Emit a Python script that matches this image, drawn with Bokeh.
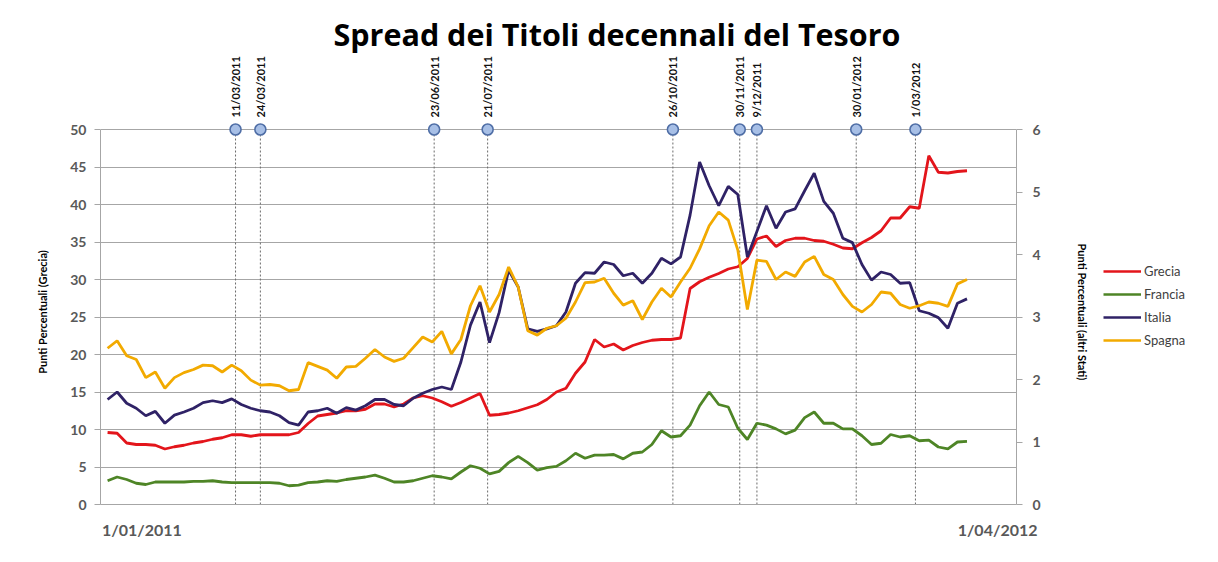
import numpy as np
import pandas as pd
from bokeh.plotting import figure
from bokeh.layouts import column, row
from bokeh.models import (Range1d, LinearAxis, FixedTicker, Legend, LegendItem,
                          ColumnDataSource)
from bokeh.embed import file_html
from bokeh.resources import INLINE
from bokeh.core.properties import value

# ---------------- data ----------------
date_rilevazione = pd.date_range("2011-01-03", periods=91, freq="5D")

# Grecia: left axis (punti percentuali)
grecia = [9.6, 9.5, 8.2, 8.0, 8.0, 7.9, 7.4, 7.7, 7.9, 8.2,
          8.4, 8.7, 8.9, 9.3, 9.3, 9.1, 9.3, 9.3, 9.3, 9.3,
          9.6, 10.8, 11.8, 12.0, 12.2, 12.5, 12.5, 12.7, 13.4, 13.4,
          13.0, 13.4, 14.2, 14.5, 14.2, 13.7, 13.1, 13.6, 14.2, 14.8,
          11.9, 12.0, 12.2, 12.5, 12.9, 13.3, 14.0, 15.0, 15.5, 17.5,
          19.0, 22.0, 21.0, 21.4, 20.6, 21.2, 21.6, 21.9, 22.0, 22.0,
          22.2, 28.8, 29.7, 30.3, 30.8, 31.4, 31.7, 32.8, 35.4, 35.8,
          34.4, 35.2, 35.5, 35.5, 35.2, 35.1, 34.7, 34.2, 34.1, 34.9,
          35.6, 36.5, 38.2, 38.2, 39.7, 39.5, 46.5, 44.3, 44.2, 44.4,
          44.5]

# altri Stati: right axis
francia = [0.38, 0.44, 0.40, 0.34, 0.32, 0.36, 0.36, 0.36, 0.36, 0.37,
           0.37, 0.38, 0.36, 0.35, 0.35, 0.35, 0.35, 0.35, 0.34, 0.30,
           0.31, 0.35, 0.36, 0.38, 0.37, 0.40, 0.42, 0.44, 0.47, 0.42,
           0.36, 0.36, 0.38, 0.42, 0.46, 0.44, 0.41, 0.52, 0.62, 0.58,
           0.49, 0.53, 0.67, 0.77, 0.67, 0.55, 0.59, 0.61, 0.70, 0.82,
           0.74, 0.79, 0.79, 0.80, 0.73, 0.82, 0.84, 0.96, 1.18, 1.08,
           1.10, 1.27, 1.58, 1.80, 1.60, 1.56, 1.22, 1.04, 1.30, 1.27,
           1.21, 1.13, 1.19, 1.39, 1.48, 1.30, 1.30, 1.21, 1.21, 1.10,
           0.96, 0.98, 1.12, 1.08, 1.10, 1.02, 1.03, 0.92, 0.89, 1.00,
           1.01]

italia = [1.68, 1.80, 1.62, 1.54, 1.42, 1.49, 1.30, 1.43, 1.48, 1.54,
          1.63, 1.66, 1.63, 1.69, 1.60, 1.54, 1.50, 1.48, 1.42, 1.31,
          1.27, 1.48, 1.50, 1.54, 1.46, 1.55, 1.51, 1.58, 1.68, 1.68,
          1.60, 1.58, 1.70, 1.78, 1.84, 1.88, 1.84, 2.28, 2.87, 3.24,
          2.59, 3.07, 3.75, 3.48, 2.81, 2.77, 2.81, 2.86, 3.08, 3.54,
          3.71, 3.70, 3.88, 3.84, 3.66, 3.70, 3.54, 3.70, 3.94, 3.85,
          3.96, 4.63, 5.48, 5.10, 4.78, 5.09, 4.96, 3.96, 4.37, 4.78,
          4.42, 4.68, 4.73, 5.02, 5.30, 4.85, 4.66, 4.26, 4.19, 3.84,
          3.59, 3.72, 3.68, 3.54, 3.55, 3.10, 3.06, 2.99, 2.82, 3.22,
          3.29]

spagna = [2.50, 2.62, 2.38, 2.32, 2.03, 2.12, 1.86, 2.03, 2.11, 2.16,
          2.23, 2.22, 2.12, 2.23, 2.14, 1.99, 1.91, 1.92, 1.90, 1.82,
          1.84, 2.27, 2.21, 2.15, 2.02, 2.20, 2.21, 2.34, 2.48, 2.36,
          2.29, 2.34, 2.51, 2.68, 2.60, 2.77, 2.41, 2.64, 3.18, 3.50,
          3.08, 3.36, 3.80, 3.48, 2.78, 2.71, 2.82, 2.86, 2.98, 3.24,
          3.55, 3.56, 3.62, 3.38, 3.19, 3.26, 2.96, 3.24, 3.46, 3.32,
          3.56, 3.78, 4.09, 4.46, 4.68, 4.55, 4.07, 3.12, 3.91, 3.89,
          3.60, 3.72, 3.65, 3.88, 3.97, 3.68, 3.60, 3.36, 3.17, 3.08,
          3.20, 3.40, 3.38, 3.20, 3.14, 3.18, 3.24, 3.22, 3.17, 3.53,
          3.60]

eventi = ["2011-03-11", "2011-03-24", "2011-06-23", "2011-07-21", "2011-10-26",
          "2011-11-30", "2011-12-09", "2012-01-30", "2012-03-01"]
etichette_eventi = ["11/03/2011", "24/03/2011", "23/06/2011", "21/07/2011",
                    "26/10/2011", "30/11/2011", "9/12/2011", "30/01/2012", "1/03/2012"]

tick_sx = [0, 5, 10, 15, 20, 25, 30, 35, 40, 45, 50]
tick_dx = [0, 1, 2, 3, 4, 5, 6]
tick_x_label = ["1/01/2011", "1/04/2012"]
tick_x_pos = ["2011-01-21", "2012-04-13"]   # where the two date labels sit

titolo = "Spread dei Titoli decennali del Tesoro"
nomi = ["Grecia", "Francia", "Italia", "Spagna"]
colori = ["#e3151b", "#4e8526", "#2f2266", "#f2aa00"]

# ---------------- layout constants ----------------
FONT = "Lato"
GRAY = "#a6a6a6"
LBL = "#595959"
W, H = 1218, 562
HEAD_H = 119                  # header strip: title + event labels
HEAD_TOP = 54                 # title band height inside the header
MAIN_W = 1095                 # main chart width (frame + both axes)
PX_PER_UNIT = 7.5             # left-axis pixels per point
Y_MAX = 50 + 10 / PX_PER_UNIT  # small gap above the 50 line
X_RANGE = Range1d(pd.Timestamp("2010-12-30 07:00"), pd.Timestamp("2012-04-22 22:00"))

ev = ColumnDataSource(dict(data=pd.to_datetime(eventi), etichetta=etichette_eventi))

# ---------------- header figure ----------------
head = figure(width=W, height=HEAD_H, x_range=X_RANGE,
              y_range=Range1d(Y_MAX, Y_MAX + (HEAD_H - HEAD_TOP) / PX_PER_UNIT),
              x_axis_location=None, y_axis_location=None,
              output_backend="svg", toolbar_location=None,
              min_border_left=100, min_border_right=W - 1016,
              min_border_top=HEAD_TOP, min_border_bottom=0)
head.outline_line_color = None
head.grid.visible = False
head.title.text = titolo
head.title.align = "left"
head.title.offset = 233
head.title.standoff = 0
head.title.text_font = "Open Sans"
head.title.text_font_size = "30.5px"
head.title.text_font_style = "bold"
head.title.text_color = "black"
head.text(x="data", y=51.6, text="etichetta", source=ev, angle=np.pi / 2,
          text_align="left", text_baseline="middle", text_font=value(FONT),
          text_font_size="11px", text_font_style="bold", text_color="#111111")

# ---------------- main figure ----------------
p = figure(width=MAIN_W, height=H - HEAD_H, x_axis_type="datetime",
           x_range=X_RANGE, y_range=Range1d(0, Y_MAX),
           output_backend="svg", toolbar_location=None,
           min_border_left=100, min_border_right=MAIN_W - 1016,
           min_border_top=0, min_border_bottom=58)
p.extra_y_ranges = {"destra": Range1d(0, Y_MAX * 6 / 50)}
p.outline_line_color = None

p.xgrid.visible = False
p.ygrid.ticker = FixedTicker(ticks=tick_sx)
p.ygrid.grid_line_color = GRAY
p.ygrid.grid_line_width = 1

# left axis
ya = p.yaxis[0]
ya.ticker = FixedTicker(ticks=tick_sx)
ya.bounds = (0, 50)
ya.axis_line_color = GRAY
ya.major_tick_line_color = GRAY
ya.major_tick_out = 6
ya.major_tick_in = 0
ya.minor_tick_line_color = None
ya.major_label_text_font = FONT
ya.major_label_text_font_size = "14px"
ya.major_label_text_font_style = "bold"
ya.major_label_text_color = LBL
ya.major_label_standoff = 8
ya.axis_label = "Punti Percentuali (Grecia)"
ya.axis_label_text_font = FONT
ya.axis_label_text_font_size = "11px"
ya.axis_label_text_font_style = "bold"
ya.axis_label_text_color = "black"
ya.axis_label_standoff = 18

# right axis
ra = LinearAxis(y_range_name="destra", ticker=FixedTicker(ticks=tick_dx), bounds=(0, 6))
ra.axis_line_color = GRAY
ra.major_tick_line_color = GRAY
ra.major_tick_out = 6
ra.major_tick_in = 0
ra.minor_tick_line_color = None
ra.major_label_text_font = FONT
ra.major_label_text_font_size = "14px"
ra.major_label_text_font_style = "bold"
ra.major_label_text_color = LBL
ra.major_label_standoff = 10
ra.axis_label = "Punti Percentuali (altri Stati)"
ra.axis_label_text_font = FONT
ra.axis_label_text_font_size = "11px"
ra.axis_label_text_font_style = "bold"
ra.axis_label_text_color = "black"
ra.axis_label_standoff = 32
p.add_layout(ra, "right")

# x axis
tick_ms = [int(pd.Timestamp(d).timestamp() * 1000) for d in tick_x_pos]
xa = p.xaxis[0]
xa.ticker = FixedTicker(ticks=tick_ms)
xa.major_label_overrides = {t: l for t, l in zip(tick_ms, tick_x_label)}
xa.axis_line_color = GRAY
xa.major_tick_line_color = None
xa.minor_tick_line_color = None
xa.major_label_text_font = FONT
xa.major_label_text_font_size = "16px"
xa.major_label_text_font_style = "bold"
xa.major_label_text_color = LBL
xa.major_label_standoff = 9

# event markers
p.segment(x0="data", y0=0, x1="data", y1=50, source=ev,
          line_color="#6a6a6a", line_width=1, line_dash="2 2")

# series
src = ColumnDataSource(dict(data=date_rilevazione, grecia=grecia, francia=francia,
                            italia=italia, spagna=spagna))
p.line("data", "grecia", source=src, line_color=colori[0], line_width=2.8)
p.line("data", "francia", source=src, y_range_name="destra",
       line_color=colori[1], line_width=2.8)
p.line("data", "italia", source=src, y_range_name="destra",
       line_color=colori[2], line_width=2.8)
p.line("data", "spagna", source=src, y_range_name="destra",
       line_color=colori[3], line_width=2.8)

p.scatter(x="data", y=50, source=ev, marker="circle", size=11,
          fill_color="#a7bfe6", line_color="#4f6ea6", line_width=1.6)

# ---------------- legend strip ----------------
leg = figure(width=W - MAIN_W, height=H - HEAD_H, x_range=Range1d(0, 1), y_range=Range1d(0, 1),
             x_axis_location=None, y_axis_location=None,
             output_backend="svg", toolbar_location=None,
             min_border_left=0, min_border_right=0, min_border_top=0, min_border_bottom=0)
leg.outline_line_color = None
leg.grid.visible = False
voci = []
for nome, col in zip(nomi, colori):
    # swatch renderer kept outside the visible range: only its legend entry shows
    r = leg.line(x=[5, 6], y=[5, 6], line_color=col, line_width=2.4)
    voci.append(LegendItem(label=nome, renderers=[r]))
legend = Legend(items=voci, location=(8, 154), orientation="vertical",
                glyph_width=38, glyph_height=20, label_height=20, spacing=3,
                padding=0, margin=0, label_standoff=3,
                border_line_color=None, background_fill_alpha=0,
                label_text_font=FONT, label_text_font_size="13px",
                label_text_color="#404040")
leg.add_layout(legend)

layout = column(head, row(p, leg, spacing=0), spacing=0)
open("out.html", "w").write(file_html(layout, INLINE))
